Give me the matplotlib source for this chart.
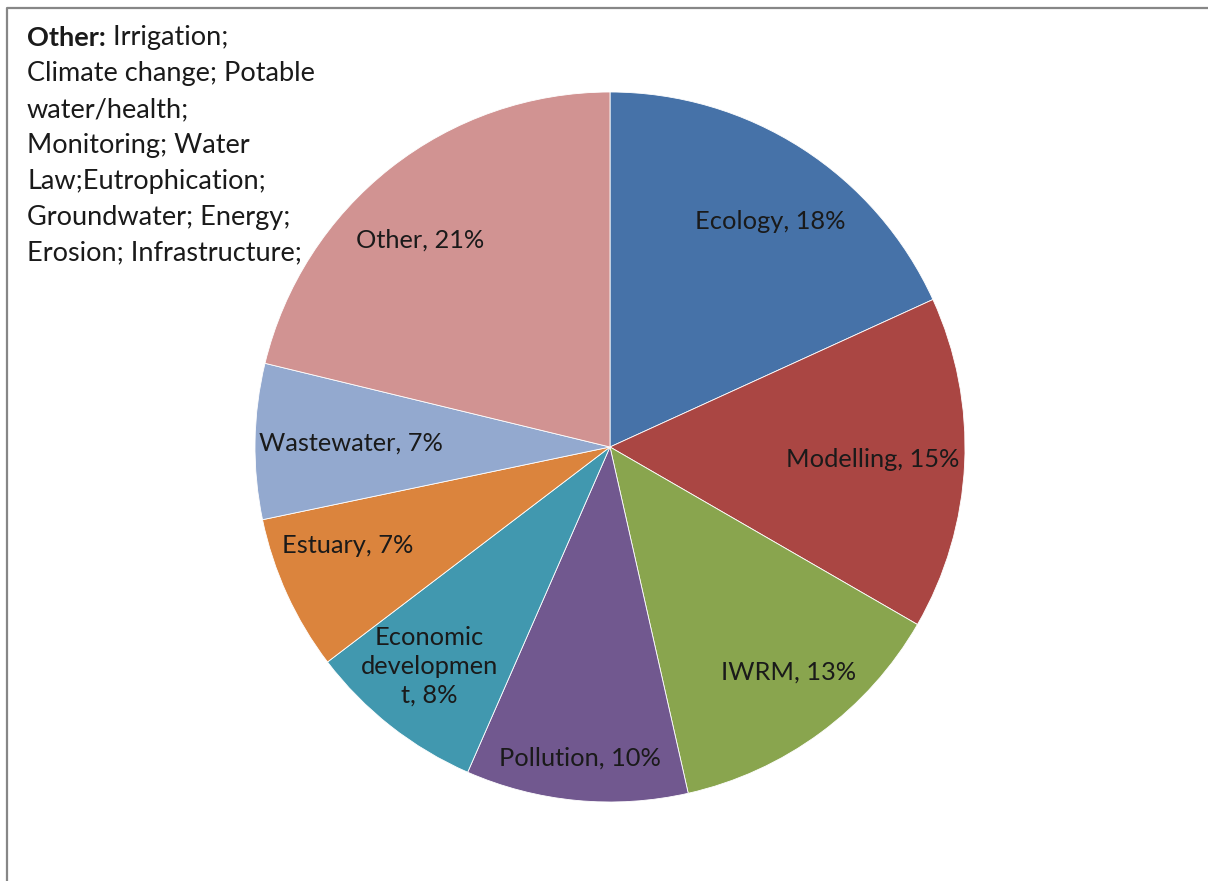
import matplotlib
matplotlib.use("Agg")
import matplotlib.pyplot as plt
from matplotlib.lines import Line2D
import numpy as np

plt.rcParams["font.family"] = ["Lato", "DejaVu Sans"]

# Research topic shares (%)
topics = ["Ecology", "Modelling", "IWRM", "Pollution", "Economic\ndevelopmen\nt",
          "Estuary", "Wastewater", "Other"]
shares = [18, 15, 13, 10, 8, 7, 7, 21]
colors = ["#4672A8", "#AA4643", "#89A54E", "#71588F", "#4198AF",
          "#DB843D", "#93A9CF", "#D19392"]
# label placement: fraction of radius and angular nudge (deg) from slice middle
label_r = [0.78, 0.74, 0.81, 0.88, 0.80, 0.79, 0.73, 0.79]
label_dang = [-2.7, 0, 2, 0, -1.3, -4, 0, 4.3]

other_note = ["Irrigation;", "Climate change; Potable", "water/health;",
              "Monitoring; Water", "Law;Eutrophication;", "Groundwater; Energy;",
              "Erosion; Infrastructure;"]

W, H = 1208, 881
fig = plt.figure(figsize=(W / 100, H / 100), dpi=100)

# pie centre and radius in pixels
cx, cy, r = 610, 447, 355
ax = fig.add_axes([(cx - r) / W, (H - cy - r) / H, 2 * r / W, 2 * r / H])

wedges, _ = ax.pie(shares, colors=colors, startangle=90, counterclock=False,
                   radius=1, wedgeprops=dict(edgecolor="white", linewidth=0.6))
ax.set_xlim(-1, 1)
ax.set_ylim(-1, 1)
ax.set_aspect("equal")
ax.axis("off")

for w, name, val, lr, da in zip(wedges, topics, shares, label_r, label_dang):
    ang = np.deg2rad((w.theta1 + w.theta2) / 2 + da)
    ax.text(lr * np.cos(ang), lr * np.sin(ang), f"{name}, {val}%",
            ha="center", va="center", fontsize=18.3, color="#1a1a1a",
            linespacing=1.3)

# note text in the top-left corner
fs = 19.5
x0 = 27 / W
y_first = 38
step = 35.8
t_bold = fig.text(x0, 1 - y_first / H, "Other:", fontsize=fs, fontweight="bold",
                  ha="left", va="center", color="#1a1a1a")
# rest of line one follows the bold word
fig.add_artist(matplotlib.text.Annotation(
    " " + other_note[0], xy=(1, 0), xycoords=t_bold, fontsize=fs,
    color="#1a1a1a", ha="left", va="bottom"))
for i, line in enumerate(other_note[1:], start=1):
    fig.text(x0, 1 - (y_first + i * step) / H, line, fontsize=fs,
             ha="left", va="center", color="#1a1a1a")

# frame on the left and top edges
fig.add_artist(Line2D([7.5 / W, 7.5 / W, 1], [0, 1 - 8 / H, 1 - 8 / H],
                      transform=fig.transFigure, color="#878787", linewidth=1.6))

fig.savefig("out.png", dpi=100)
